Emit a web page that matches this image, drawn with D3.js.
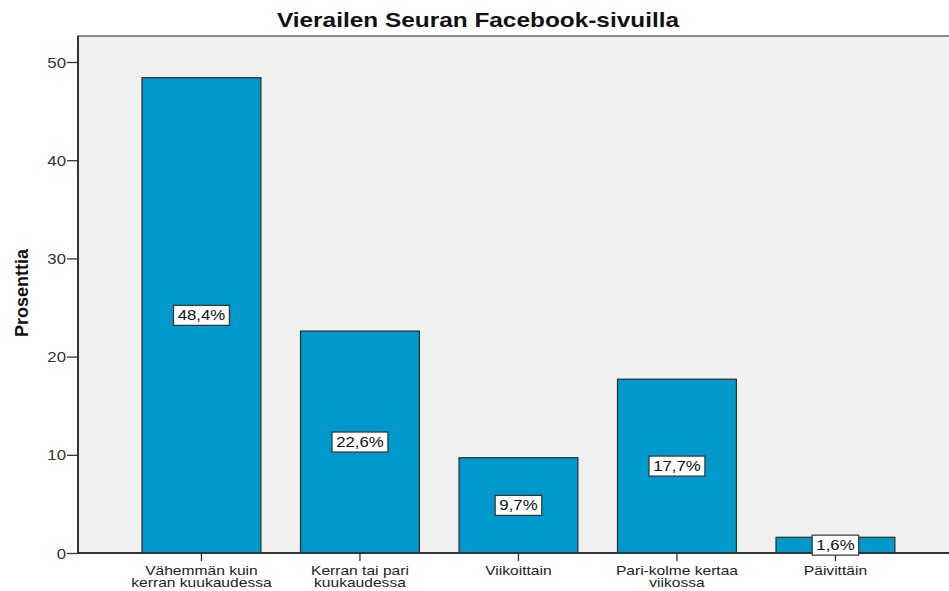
<!DOCTYPE html>
<html><head><meta charset="utf-8">
<script src="https://cdn.jsdelivr.net/npm/d3@7/dist/d3.min.js"></script>
<style>body{margin:0;background:#fff}svg{display:block}text{font-family:Arial,"Liberation Sans",sans-serif}</style>
</head><body>
<svg id="c" width="949" height="591"></svg>
<script>
const categories = [["Vähemmän kuin","kerran kuukaudessa"],["Kerran tai pari","kuukaudessa"],["Viikoittain"],["Pari-kolme kertaa","viikossa"],["Päivittäin"]];
const values = [48.4, 22.6, 9.7, 17.7, 1.6];
const valueLabels = ["48,4%","22,6%","9,7%","17,7%","1,6%"];
const yTicks = [0,10,20,30,40,50];
const title = "Vierailen Seuran Facebook-sivuilla";
const yTitle = "Prosenttia";

const svg = d3.select("#c");
const L=78, T=36, R=949, B=553;
const SX=1.2;
const y = d3.scaleLinear().domain([0,50]).range([B,62]);
const x = d3.scaleBand().domain(d3.range(values.length)).range([122.2,914.7]).paddingInner(0.25).paddingOuter(0.125);

svg.append("rect").attr("x",L).attr("y",T).attr("width",R-L+5).attr("height",B-T).attr("fill","#f0f0f0").attr("stroke","#666").attr("stroke-width",1.5);

svg.append("text").attr("transform",`translate(478,27) scale(1.22,1)`).attr("text-anchor","middle").attr("font-weight","bold").attr("font-size","20px").attr("fill","#111").text(title);

svg.selectAll("rect.bar").data(values).join("rect").attr("class","bar")
  .attr("x",(d,i)=>x(i)).attr("width",x.bandwidth())
  .attr("y",d=>y(d)).attr("height",d=>y(0)-y(d))
  .attr("fill","#0099cc").attr("stroke","#2b2b2b").attr("stroke-width",1.2);

// y axis
const ya = d3.axisLeft(y).tickValues(yTicks).tickSize(11).tickFormat(d3.format("d")).tickPadding(0);
const gy = svg.append("g").attr("transform",`translate(${L},0)`).call(ya);
gy.select(".domain").remove();
gy.selectAll("line").attr("stroke","#333").attr("stroke-width",1.3);
gy.selectAll(".tick text").attr("x",null).attr("dy",null)
  .attr("transform",`translate(-12,5) scale(${SX},1)`)
  .attr("font-size","14px").attr("fill","#333").attr("font-family","Arial,'Liberation Sans',sans-serif");
svg.append("line").attr("x1",L).attr("x2",L).attr("y1",T).attr("y2",B).attr("stroke","#333").attr("stroke-width",2);
svg.append("line").attr("x1",L).attr("x2",R).attr("y1",B).attr("y2",B).attr("stroke","#333").attr("stroke-width",2);

// x axis
const gx = svg.append("g");
gx.selectAll("line").data(values).join("line")
  .attr("x1",(d,i)=>x(i)+x.bandwidth()/2).attr("x2",(d,i)=>x(i)+x.bandwidth()/2)
  .attr("y1",B).attr("y2",B+8).attr("stroke","#333").attr("stroke-width",1.3);
gx.selectAll("text").data(categories).join("text")
  .attr("text-anchor","middle").attr("font-size","13px").attr("fill","#222")
  .attr("transform",(d,i)=>`translate(${x(i)+x.bandwidth()/2},574.5) scale(1.2,1)`)
  .each(function(d){
    d3.select(this).selectAll("tspan").data(d).join("tspan").attr("x",0).attr("dy",(t,j)=>j?"13":"0").text(t=>t);
  });

svg.append("text").attr("transform",`translate(28,${293}) rotate(-90)`).attr("text-anchor","middle")
  .attr("font-weight","bold").attr("font-size","18px").attr("fill","#111").text(yTitle);

// value labels
const lg = svg.selectAll("g.vl").data(values).join("g").attr("class","vl")
  .attr("transform",(d,i)=>`translate(${x(i)+x.bandwidth()/2},${y(d/2)})`);
lg.append("text").attr("text-anchor","middle").attr("dy","0.36em").attr("font-size","14px").attr("fill","#111")
  .attr("transform",`scale(${SX},1)`).text((d,i)=>valueLabels[i]);
lg.each(function(){
  const g=d3.select(this); const bb=g.select("text").node().getBBox();
  const w=bb.width*SX+8;
  g.insert("rect","text").attr("x",-w/2).attr("y",-10).attr("width",w).attr("height",20)
   .attr("fill","#fff").attr("stroke","#333").attr("stroke-width",1.2);
});
</script>
</body></html>
